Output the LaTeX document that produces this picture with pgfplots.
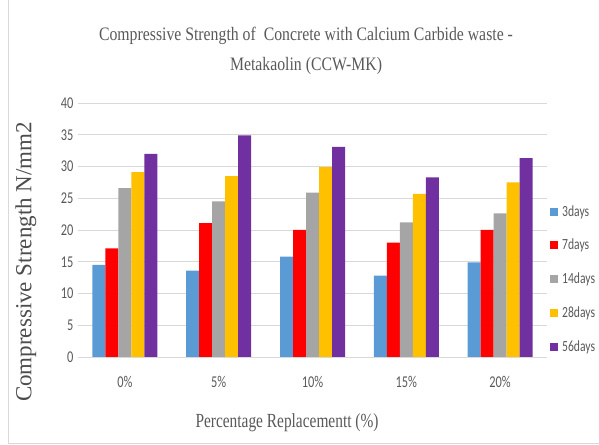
\documentclass[border=0pt]{standalone}
\usepackage{fontspec}
\setmainfont{Liberation Serif}
\newfontfamily\titlefont[FakeStretch=0.83]{Liberation Serif}
\newfontfamily\xlabfont[FakeStretch=0.77]{Liberation Serif}
\newfontfamily\condsans[FakeStretch=0.75]{Carlito}
\usepackage{pgfplots}
\pgfplotsset{compat=1.18}

\definecolor{cBlue}{HTML}{5B9BD5}
\definecolor{cRed}{HTML}{FF0000}
\definecolor{cGray}{HTML}{A5A5A5}
\definecolor{cGold}{HTML}{FFC000}
\definecolor{cPurple}{HTML}{7030A0}
\definecolor{txt}{HTML}{595959}
\definecolor{gridc}{HTML}{D9D9D9}

% small square legend keys
\pgfplotsset{ybar legend/.style={legend image code/.code={\fill[##1,draw=none] (0bp,-4bp) rectangle (8bp,4bp);}}}

\begin{document}
\begin{tikzpicture}
\useasboundingbox (0bp,0bp) rectangle (599bp,445bp);
\draw[gridc,line width=0.8pt] (8bp,445bp) -- (8bp,2bp) -- (599bp,2bp);
\begin{axis}[
  at={(78bp,88bp)}, anchor=south west,
  scale only axis, width=469bp, height=254bp,
  ybar=0pt, bar width=13bp,
  xmin=-0.5, xmax=4.5, ymin=0, ymax=40,
  xtick=data, xticklabels={0\%,5\%,10\%,15\%,20\%},
  ytick={0,5,...,40},
  ymajorgrids, grid style={gridc,line width=0.8pt},
  axis line style={draw=none},
  major tick length=0pt,
  /pgf/number format/assume math mode=true,
  tick label style={font=\condsans\fontsize{16.5bp}{18bp}\selectfont, text=txt},
  yticklabel style={xshift=-1bp},
  xticklabel style={yshift=-16bp},
  legend style={draw=none, fill=none, at={(1,0.307)}, anchor=west, xshift=3bp,
    font=\condsans\fontsize{15.5bp}{17bp}\selectfont, text=txt, row sep=17.5bp,
    inner sep=0pt, /tikz/every odd column/.append style={column sep=2bp}},
  legend cell align=left,
]
\addplot[fill=cBlue,draw=none] coordinates {(0,14.5) (1,13.6) (2,15.8) (3,12.8) (4,14.9)};
\addplot[fill=cRed,draw=none] coordinates {(0,17.1) (1,21.1) (2,20.0) (3,18.0) (4,20.0)};
\addplot[fill=cGray,draw=none] coordinates {(0,26.6) (1,24.5) (2,25.9) (3,21.2) (4,22.6)};
\addplot[fill=cGold,draw=none] coordinates {(0,29.1) (1,28.5) (2,29.9) (3,25.7) (4,27.5)};
\addplot[fill=cPurple,draw=none] coordinates {(0,32.0) (1,34.9) (2,33.1) (3,28.3) (4,31.3)};
\legend{3days,7days,14days,28days,56days}
\end{axis}
\node[text=txt, font=\titlefont\fontsize{19bp}{30bp}\selectfont, align=center] at (306bp,394bp)
  {Compressive Strength of~ Concrete with Calcium Carbide waste -\\Metakaolin (CCW-MK)};
\node[text=txt!85!black, font=\fontsize{23bp}{26bp}\selectfont, rotate=90] at (26bp,183bp)
  {Compressive Strength N/mm2};
\node[text=txt, font=\xlabfont\fontsize{20bp}{22bp}\selectfont] at (287bp,22bp)
  {Percentage Replacementt (\%)};
\end{tikzpicture}
\end{document}
